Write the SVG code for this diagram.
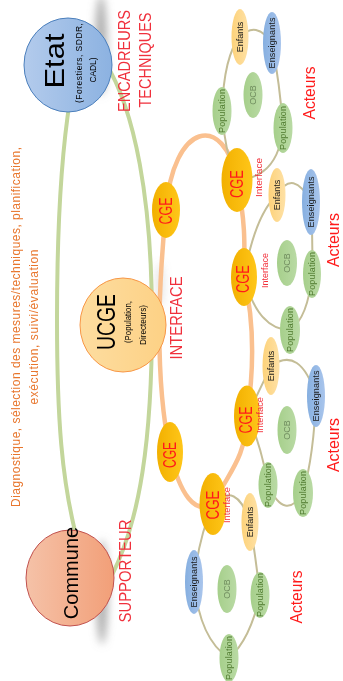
<svg xmlns="http://www.w3.org/2000/svg" width="343" height="681" viewBox="0 0 343 681">
  <defs>
    <style>
      text { font-family: "Liberation Sans", Arial, sans-serif; text-anchor: middle; dominant-baseline: central; }
      .main { fill: #000; }
      .sub { fill: #000; font-size: 8.5px; }
      .cge { fill: #ff1a1a; font-size: 19px; }
      .itf { fill: #f2303a; font-size: 9px; }
      .role { fill: #f0303c; font-size: 16px; }
      .act { fill: #ff1a1a; font-size: 17px; }
      .diag { fill: #e8762d; font-size: 12px; }
      .lbl { font-size: 9px; }
      .dark { fill: #1a1a1a; }
      .pop { fill: #4f7a2e; }
      .ocb { fill: #6f8c5e; }
      .enf { fill: url(#gEnf); }
      .ens { fill: url(#gEns); }
      .grn { fill: url(#gGrn); }
      .cgeN { fill: url(#gCge); }
      .link { fill: none; stroke: #c4bd97; stroke-width: 2; }
    </style>
    <linearGradient id="gEtat" x1="0" y1="0" x2="1" y2="0">
      <stop offset="0" stop-color="#b3cbec"/>
      <stop offset="1" stop-color="#8cb2e1"/>
    </linearGradient>
    <linearGradient id="gUcge" x1="0" y1="0" x2="1" y2="0">
      <stop offset="0" stop-color="#fddda0"/>
      <stop offset="1" stop-color="#fdd185"/>
    </linearGradient>
    <linearGradient id="gCom" x1="0" y1="0" x2="1" y2="0">
      <stop offset="0" stop-color="#f5c2a8"/>
      <stop offset="1" stop-color="#f29f78"/>
    </linearGradient>
    <linearGradient id="gCge" x1="0" y1="0" x2="1" y2="0">
      <stop offset="0" stop-color="#f2b000"/>
      <stop offset="1" stop-color="#ffc619"/>
    </linearGradient>
    <linearGradient id="gEnf" x1="0" y1="0" x2="1" y2="0">
      <stop offset="0" stop-color="#fdd27a"/>
      <stop offset="1" stop-color="#fee1a6"/>
    </linearGradient>
    <linearGradient id="gEns" x1="0" y1="0" x2="1" y2="0">
      <stop offset="0" stop-color="#86afe0"/>
      <stop offset="1" stop-color="#a9c5ec"/>
    </linearGradient>
    <linearGradient id="gGrn" x1="0" y1="0" x2="1" y2="0">
      <stop offset="0" stop-color="#a6cf8b"/>
      <stop offset="1" stop-color="#b9daa4"/>
    </linearGradient>
    <filter id="blur" x="-1" y="-1" width="3" height="3">
      <feGaussianBlur stdDeviation="4"/>
    </filter>
  </defs>

  <rect width="343" height="681" fill="#fff"/>

  <!-- soft shadows behind the round nodes -->
  <g id="shadows" fill="#8c8c8c" filter="url(#blur)">
    <ellipse cx="101" cy="45" rx="6" ry="50" opacity="0.7"/>
    <ellipse cx="102" cy="592" rx="6" ry="52" opacity="0.7"/>
    <ellipse cx="160" cy="285" rx="4" ry="22" opacity="0.25"/>
  </g>

  <g id="connectors">
    <!-- Etat / Commune ring -->
    <g fill="none" stroke="#c3d69b" stroke-width="4">
      <path d="M70,100 C62,150 57,230 57,320 C57,420 62,480 76,535"/>
      <path d="M105,62 C135,110 152,200 152,320 C152,440 140,520 112,575"/>
    </g>
    <!-- CGE ring -->
    <path fill="none" stroke="#fac08f" stroke-width="4.5"
          d="M166,210 C173,122 224,112 237,180 C245,220 245,240 244,277 C254,320 254,370 247,416 C245,460 230,470 213,504 C195,515 180,495 170,452 C155,380 158,290 166,210 Z"/>
    <!-- actor loops -->
    <path class="link" d="M237,180 Q224,150 222,111 Q224,55 240,37 Q256,20 272,43 Q280,85 283,128 Q278,178 237,180"/>
    <path class="link" d="M244,277 Q255,215 277,195 Q293,168 311,202 Q313,238 312,274 Q308,318 290,330 Q258,330 244,277"/>
    <path class="link" d="M247,416 L271,366 Q300,345 316,396 Q314,455 303,493 Q285,522 268,485 Q260,440 247,416"/>
    <path class="link" d="M213,504 Q236,480 250,522 Q256,560 260,595 Q250,640 229,658 Q200,640 194,582 Q198,540 213,504"/>
  </g>

  <!-- main actors -->
  <g id="etat">
    <ellipse cx="68" cy="65" rx="44" ry="47" fill="url(#gEtat)" stroke="#4a7ebb" stroke-width="1"/>
    <text class="main" transform="translate(54,61) rotate(-90)" font-size="28" textLength="55" lengthAdjust="spacingAndGlyphs">Etat</text>
    <text class="sub" transform="translate(79,63) rotate(-90)" textLength="80">(Forestiers, SDDR,</text>
    <text class="sub" transform="translate(93,70) rotate(-90)" textLength="25">CADL)</text>
  </g>

  <g id="ucge">
    <ellipse cx="123" cy="325" rx="43" ry="47" fill="url(#gUcge)" stroke="#f79646" stroke-width="1"/>
    <text class="main" transform="translate(106,322) rotate(-90)" font-size="25" textLength="56" lengthAdjust="spacingAndGlyphs">UCGE</text>
    <text class="sub" transform="translate(128,322) rotate(-90)" textLength="42" lengthAdjust="spacingAndGlyphs">(Population,</text>
    <text class="sub" transform="translate(143,325) rotate(-90)" textLength="40" lengthAdjust="spacingAndGlyphs">Directeurs)</text>
  </g>

  <g id="commune">
    <ellipse cx="70" cy="578" rx="44" ry="48" fill="url(#gCom)" stroke="#c0504d" stroke-width="1"/>
    <text class="main" transform="translate(70.5,573) rotate(-90)" font-size="20">Commune</text>
  </g>

  <!-- CGE nodes -->
  <g id="cge-a">
    <ellipse class="cgeN" cx="166" cy="210" rx="14" ry="28"/>
    <text class="cge" transform="translate(165,211) rotate(-90)" textLength="27" lengthAdjust="spacingAndGlyphs">CGE</text>
  </g>
  <g id="cge-b">
    <ellipse class="cgeN" cx="237" cy="180" rx="15.5" ry="32"/>
    <text class="cge" transform="translate(236,184) rotate(-90)" textLength="28" lengthAdjust="spacingAndGlyphs">CGE</text>
    <text class="itf" transform="translate(258.5,177.5) rotate(-90)" textLength="39" lengthAdjust="spacingAndGlyphs">Interface</text>
  </g>
  <g id="cge-c">
    <ellipse class="cgeN" cx="244" cy="277" rx="13" ry="29"/>
    <text class="cge" transform="translate(242.5,279) rotate(-90)" textLength="28" lengthAdjust="spacingAndGlyphs">CGE</text>
    <text class="itf" transform="translate(265,270.5) rotate(-90)" textLength="35" lengthAdjust="spacingAndGlyphs">Interface</text>
  </g>
  <g id="cge-d">
    <ellipse class="cgeN" cx="247" cy="416" rx="13" ry="30.5"/>
    <text class="cge" transform="translate(245,420) rotate(-90)" textLength="27" lengthAdjust="spacingAndGlyphs">CGE</text>
    <text class="itf" transform="translate(259.5,415) rotate(-90)" textLength="36" lengthAdjust="spacingAndGlyphs">Interface</text>
  </g>
  <g id="cge-e">
    <ellipse class="cgeN" cx="170" cy="452" rx="13" ry="30"/>
    <text class="cge" transform="translate(169,455) rotate(-90)" textLength="26" lengthAdjust="spacingAndGlyphs">CGE</text>
  </g>
  <g id="cge-f">
    <ellipse class="cgeN" cx="213" cy="504" rx="13.5" ry="31"/>
    <text class="cge" transform="translate(212.5,505) rotate(-90)" textLength="29" lengthAdjust="spacingAndGlyphs">CGE</text>
    <text class="itf" transform="translate(227,505) rotate(-90)" textLength="36" lengthAdjust="spacingAndGlyphs">Interface</text>
  </g>

  <!-- actor group 1 -->
  <g id="g1-enfants"><ellipse class="enf" cx="240" cy="37" rx="8.5" ry="28"/><text class="lbl dark" transform="translate(240,37) rotate(-90)">Enfants</text></g>
  <g id="g1-enseignants"><ellipse class="ens" cx="272" cy="43" rx="9" ry="31"/><text class="lbl dark" transform="translate(272,43) rotate(-90)" textLength="51">Enseignants</text></g>
  <g id="g1-ocb"><ellipse class="grn" cx="253" cy="95" rx="9.5" ry="23"/><text class="lbl ocb" transform="translate(253,95) rotate(-90)">OCB</text></g>
  <g id="g1-pop-a"><ellipse class="grn" cx="222" cy="111" rx="9.5" ry="24"/><text class="lbl pop" transform="translate(222,111) rotate(-90)" textLength="44">Population</text></g>
  <g id="g1-pop-b"><ellipse class="grn" cx="283" cy="128" rx="9.5" ry="25"/><text class="lbl pop" transform="translate(283,128) rotate(-90)" textLength="44">Population</text></g>

  <!-- actor group 2 -->
  <g id="g2-enfants"><ellipse class="enf" cx="277" cy="195" rx="8.5" ry="27"/><text class="lbl dark" transform="translate(277,195) rotate(-90)">Enfants</text></g>
  <g id="g2-enseignants"><ellipse class="ens" cx="311" cy="202" rx="9" ry="33"/><text class="lbl dark" transform="translate(311,202) rotate(-90)" textLength="51">Enseignants</text></g>
  <g id="g2-ocb"><ellipse class="grn" cx="287" cy="263" rx="10" ry="23"/><text class="lbl ocb" transform="translate(287,263) rotate(-90)">OCB</text></g>
  <g id="g2-pop-a"><ellipse class="grn" cx="312" cy="274" rx="9" ry="24"/><text class="lbl pop" transform="translate(312,274) rotate(-90)" textLength="44">Population</text></g>
  <g id="g2-pop-b"><ellipse class="grn" cx="290" cy="330" rx="10" ry="24"/><text class="lbl pop" transform="translate(290,330) rotate(-90)" textLength="44">Population</text></g>

  <!-- actor group 3 -->
  <g id="g3-enfants"><ellipse class="enf" cx="271" cy="366" rx="8.5" ry="29"/><text class="lbl dark" transform="translate(271,366) rotate(-90)">Enfants</text></g>
  <g id="g3-enseignants"><ellipse class="ens" cx="316" cy="396" rx="9" ry="31"/><text class="lbl dark" transform="translate(316,396) rotate(-90)" textLength="51">Enseignants</text></g>
  <g id="g3-ocb"><ellipse class="grn" cx="287" cy="430" rx="9.5" ry="24"/><text class="lbl ocb" transform="translate(287,430) rotate(-90)">OCB</text></g>
  <g id="g3-pop-a"><ellipse class="grn" cx="268" cy="485" rx="9.5" ry="23"/><text class="lbl pop" transform="translate(268,485) rotate(-90)" textLength="44">Population</text></g>
  <g id="g3-pop-b"><ellipse class="grn" cx="303" cy="493" rx="10" ry="24"/><text class="lbl pop" transform="translate(303,493) rotate(-90)" textLength="44">Population</text></g>

  <!-- actor group 4 -->
  <g id="g4-enfants"><ellipse class="enf" cx="250" cy="522" rx="8.5" ry="29"/><text class="lbl dark" transform="translate(250,522) rotate(-90)">Enfants</text></g>
  <g id="g4-enseignants"><ellipse class="ens" cx="194" cy="582" rx="9" ry="32"/><text class="lbl dark" transform="translate(194,582) rotate(-90)" textLength="51">Enseignants</text></g>
  <g id="g4-ocb"><ellipse class="grn" cx="227" cy="589" rx="9.5" ry="24"/><text class="lbl ocb" transform="translate(227,589) rotate(-90)">OCB</text></g>
  <g id="g4-pop-a"><ellipse class="grn" cx="260" cy="595" rx="9.5" ry="23"/><text class="lbl pop" transform="translate(260,595) rotate(-90)" textLength="44">Population</text></g>
  <g id="g4-pop-b"><ellipse class="grn" cx="229" cy="658" rx="9.5" ry="24"/><text class="lbl pop" transform="translate(229,658) rotate(-90)" textLength="44">Population</text></g>

  <!-- free labels -->
  <g id="labels">
    <text class="diag" transform="translate(16,327) rotate(-90)" textLength="360">Diagnostique, sélection des mesures/techniques, planification,</text>
    <text class="diag" transform="translate(34,327) rotate(-90)" textLength="155">exécution, suivi/évaluation</text>
    <text class="role" transform="translate(124,61) rotate(-90)" textLength="102" lengthAdjust="spacingAndGlyphs">ENCADREURS</text>
    <text class="role" transform="translate(145,60) rotate(-90)" textLength="95" lengthAdjust="spacingAndGlyphs">TECHNIQUES</text>
    <text class="role" transform="translate(176,318) rotate(-90)" textLength="83" lengthAdjust="spacingAndGlyphs">INTERFACE</text>
    <text class="role" transform="translate(125,571) rotate(-90)" textLength="103" lengthAdjust="spacingAndGlyphs">SUPPORTEUR</text>
    <text class="act" transform="translate(309,93) rotate(-90)" textLength="53" lengthAdjust="spacingAndGlyphs">Acteurs</text>
    <text class="act" transform="translate(333,240) rotate(-90)" font-size="16" textLength="54" lengthAdjust="spacingAndGlyphs">Acteurs</text>
    <text class="act" transform="translate(333,445) rotate(-90)" font-size="16" textLength="54" lengthAdjust="spacingAndGlyphs">Acteurs</text>
    <text class="act" transform="translate(296,597) rotate(-90)" textLength="53" lengthAdjust="spacingAndGlyphs">Acteurs</text>
  </g>
</svg>
